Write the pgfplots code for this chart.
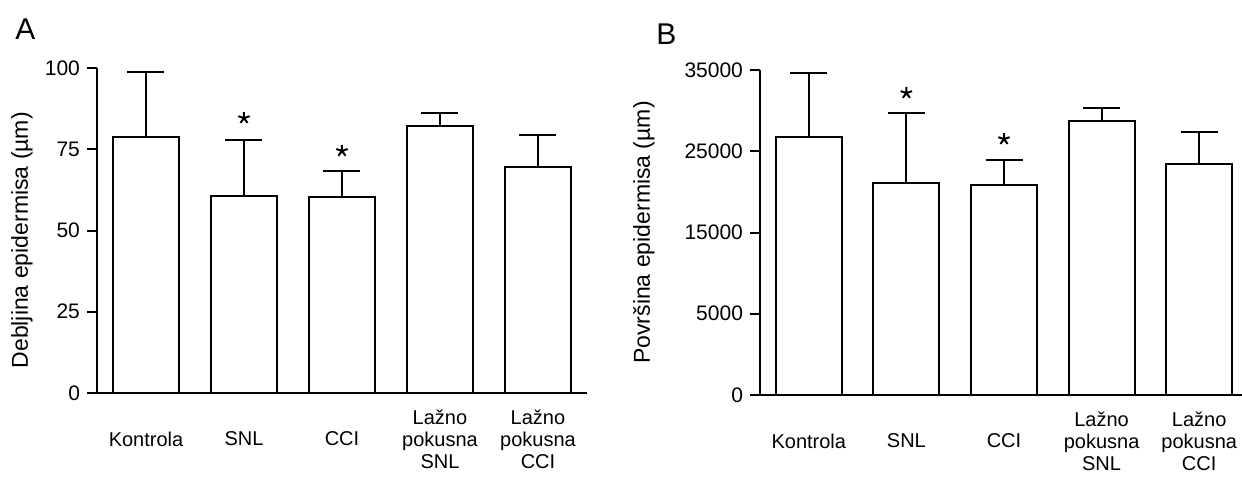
\documentclass[border=0pt]{standalone}
\usepackage{pgfplots}
\pgfplotsset{compat=1.18}
\usepackage{fontspec}
\setmainfont{Liberation Sans}

\pgfplotsset{
  panel/.style={
    scale only axis,
    clip=false,
    axis x line=bottom, axis y line=left,
    axis line style={-, line width=1pt, black},
    xmin=-0.5, xmax=4.5,
    xtick={0,1,2,3,4},
    xticklabels={Kontrola,SNL,CCI,{Lažno\\pokusna\\SNL},{Lažno\\pokusna\\CCI}},
    xticklabel style={align=center, anchor=center, yshift=-18pt,
      font=\fontsize{10}{11}\selectfont},
    x tick style={draw=none},
    tick align=outside,
    major tick length=5pt,
    y tick style={line width=1pt, black},
    yticklabel style={font=\fontsize{10.5}{12}\selectfont},
    scaled y ticks=false,
    /pgf/number format/assume math mode=true,
    ymin=0,
  },
  barplot/.style={
    ybar, bar width=33pt, bar shift=0pt,
    draw=black, fill=white, line width=1pt,
    error bars/.cd, y dir=plus, y explicit,
    error mark=|,
    error mark options={mark size=9.25pt, line width=1pt, black},
    error bar style={line width=1pt, black},
  },
  starplot/.style={
    only marks, mark=star, mark size=3pt, line width=1pt, black,
  },
}

\begin{document}
\begin{tikzpicture}
% Panel A
\begin{axis}[panel,
  at={(48.5pt,-196.5pt)}, anchor=south west,
  width=245pt, height=162.5pt,
  ymax=100, ytick={0,25,50,75,100},
  every axis y label/.style={at={(axis description cs:-0.153,0.47)}, rotate=90, anchor=center,
    font=\fontsize{11.5}{13}\selectfont},
  ylabel={Debljina epidermisa (µm)},
]
\addplot[barplot] coordinates {
  (0,78.9) +- (0,20)
  (1,60.5) +- (0,17.5)
  (2,60.3) +- (0,8)
  (3,82.1) +- (0,4)
  (4,69.5) +- (0,10)
};
\addplot[starplot] coordinates {(1,84.6) (2,74.5)};
\end{axis}

% Panel B
\begin{axis}[panel,
  at={(380pt,-197.5pt)}, anchor=south west,
  width=244pt, height=162.5pt,
  y coord trafo/.code={\begingroup\pgfkeys{/pgf/fpu,/pgf/fpu/output format=fixed}%
    \pgfmathparse{ifthenelse(#1<5000,2*#1,#1+5000)}\pgfmathsmuggle\pgfmathresult\endgroup},
  y coord inv trafo/.code={\begingroup\pgfkeys{/pgf/fpu,/pgf/fpu/output format=fixed}%
    \pgfmathparse{ifthenelse(#1<10000,#1/2,#1-5000)}\pgfmathsmuggle\pgfmathresult\endgroup},
  ymax=35000, ytick={0,5000,15000,25000,35000},
  yticklabels={0,5000,15000,25000,35000},
  every axis y label/.style={at={(axis description cs:-0.238,0.5)}, rotate=90, anchor=center,
    font=\fontsize{11.5}{13}\selectfont},
  ylabel={Površina epidermisa (µm)},
]
\addplot[barplot] coordinates {
  (0,26750) +- (0,7880)
  (1,21100) +- (0,8600)
  (2,20850) +- (0,3070)
  (3,28700) +- (0,1620)
  (4,23430) +- (0,3940)
};
\addplot[starplot] coordinates {(1,32170) (2,26500)};
\end{axis}

\node[anchor=north west, inner sep=0pt, font=\fontsize{15}{16}\selectfont] at (7.5pt,-9pt) {A};
\node[anchor=north west, inner sep=0pt, font=\fontsize{15}{16}\selectfont] at (328pt,-11.5pt) {B};

\pgfresetboundingbox
\path[use as bounding box] (0,0) rectangle (621pt,-240.5pt);
\end{tikzpicture}
\end{document}
